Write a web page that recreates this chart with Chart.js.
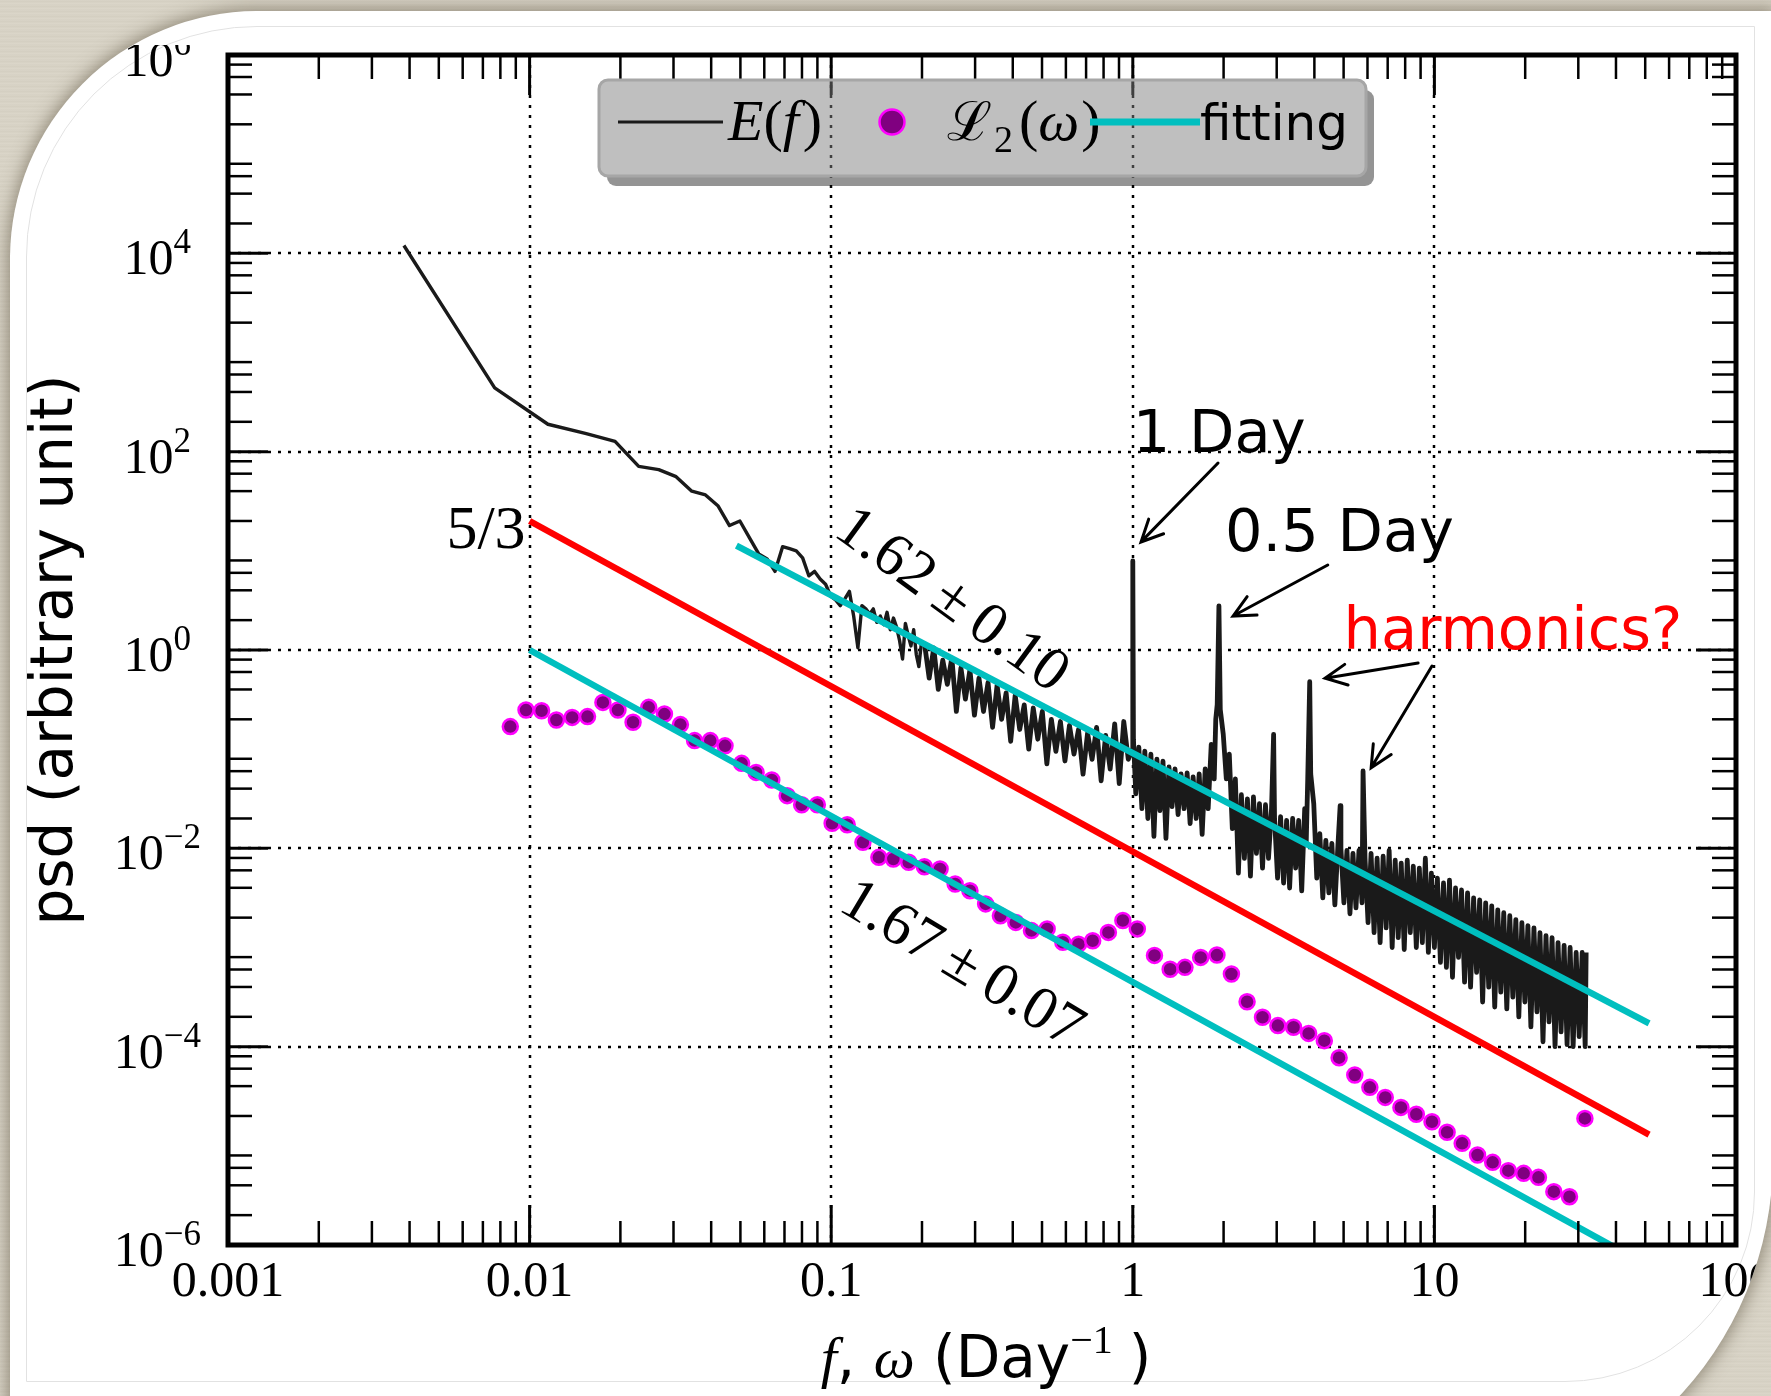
<!DOCTYPE html>
<html>
<head>
<meta charset="utf-8">
<script src="https://cdn.jsdelivr.net/npm/chart.js@4.4.1/dist/chart.umd.min.js"></script>
<style>
  html, body {
    margin: 0;
    width: 1771px;
    height: 1396px;
    overflow: hidden;
    background-color: #d8d3c6;
    background-image: repeating-linear-gradient(180deg, #d9d4c7 0px, #d3cec0 2px, #dcd7ca 3px, #d6d1c4 5px);
  }
  #card {
    position: absolute;
    left: 10px;
    top: 11px;
    width: 1763px;
    height: 1497px;
    background: #fff;
    border-radius: 248px 0 350px 0;
    overflow: hidden;
    box-shadow: 0 0 16px 3px rgba(80, 70, 50, 0.5);
  }
  #inner {
    position: absolute;
    left: 16px;
    top: 15px;
    width: 1727px;
    height: 1354px;
    border: 1px solid #e2e2e2;
    border-radius: 231px 0 190px 0;
  }
  #wrap {
    position: absolute;
    left: -10px;
    top: 34px;
    width: 1771px;
    height: 1351px;
  }
</style>
</head>
<body>
<div id="card">
  <div id="inner"></div>
  <div id="wrap"><canvas id="psdChart" width="1771" height="1351"></canvas></div>
</div>
<script>
// E(f): lowest frequency bins, one value per bin
const eFreqLow = [0.00383, 0.00766, 0.0115, 0.0153, 0.0192, 0.0230, 0.0268, 0.0306, 0.0345, 0.0383,
  0.0421, 0.0460, 0.0498, 0.0536, 0.0575, 0.0613, 0.0651, 0.0690, 0.0728, 0.0766,
  0.0804, 0.0843, 0.0881, 0.0919, 0.0958, 0.0996, 0.1034, 0.1072, 0.1111, 0.1149,
  0.1187, 0.1226, 0.1264, 0.1302, 0.1341, 0.1379, 0.1417, 0.1455, 0.1494, 0.1532,
  0.1570, 0.1609, 0.1647, 0.1685, 0.1724, 0.1762, 0.1800, 0.1838, 0.1877, 0.1915,
  0.1953, 0.1992];
const ePsdLow = [12000, 440, 189, 153, 127, 71, 66, 56, 40, 36.6,
  28.5, 18, 20, 13.5, 9.3, 8.3, 6.2, 11, 10.5, 10,
  8.5, 5.6, 6.2, 5.2, 4.6, 3.5, 3.2, 2.8, 3.3, 3.9,
  2.2, 1.05, 2.8, 2.6, 2.3, 2.6, 1.9, 2.2, 1.8, 2.4,
  1.6, 2.1, 1.7, 1.25, 0.81, 1.85, 1.4, 1.1, 1.6, 0.9,
  0.68, 1.2];

// E(f): 0.2 .. 1 Day^-1, noisy part up to the diurnal peak
const eFreqMid = [0.2042, 0.2113, 0.2188, 0.2265, 0.2344, 0.2427, 0.2512, 0.2600, 0.2692, 0.2786,
  0.2884, 0.2985, 0.3090, 0.3199, 0.3311, 0.3428, 0.3548, 0.3673, 0.3802, 0.3936,
  0.4074, 0.4217, 0.4365, 0.4519, 0.4677, 0.4842, 0.5012, 0.5188, 0.5370, 0.5559,
  0.5754, 0.5957, 0.6166, 0.6383, 0.6607, 0.6839, 0.7079, 0.7328, 0.7586, 0.7852,
  0.8128, 0.8414, 0.8710, 0.9016, 0.9333, 0.9661, 0.995, 1.000, 1.005];
const ePsdMid = [1.12, 0.52, 1.05, 0.40, 0.79, 0.45, 0.83, 0.24, 0.66, 0.32,
  0.63, 0.22, 0.52, 0.24, 0.47, 0.166, 0.44, 0.20, 0.37, 0.12,
  0.35, 0.158, 0.28, 0.10, 0.26, 0.126, 0.24, 0.071, 0.20, 0.095,
  0.19, 0.076, 0.174, 0.089, 0.158, 0.056, 0.145, 0.079, 0.166, 0.048,
  0.138, 0.063, 0.18, 0.045, 0.19, 0.079, 0.10, 7.9, 0.126];

// E(f): 1 .. 32 Day^-1, dense band with the tidal peaks
const eFreqHigh = [1.023, 1.047, 1.072, 1.096, 1.122, 1.148, 1.175, 1.202, 1.230, 1.259,
  1.288, 1.318, 1.349, 1.380, 1.413, 1.445, 1.479, 1.514, 1.549, 1.585,
  1.622, 1.660, 1.698, 1.738, 1.778, 1.820, 1.862, 1.884, 1.905, 1.930,
  1.950, 1.995, 2.042, 2.089, 2.138, 2.188, 2.239, 2.291, 2.344, 2.399,
  2.455, 2.512, 2.570, 2.630, 2.692, 2.754, 2.818, 2.884, 2.930, 2.951,
  3.020, 3.090, 3.162, 3.236, 3.311, 3.388, 3.467, 3.548, 3.631, 3.715,
  3.758, 3.802, 3.860, 3.890, 3.981, 4.074, 4.169, 4.266, 4.365, 4.467,
  4.571, 4.677, 4.786, 4.870, 4.898, 5.012, 5.129, 5.248, 5.370, 5.495,
  5.623, 5.754, 5.800, 5.888, 6.026, 6.166, 6.310, 6.457, 6.607, 6.761,
  6.918, 7.079, 7.244, 7.413, 7.586, 7.762, 7.943, 8.128, 8.318, 8.511,
  8.710, 8.913, 9.120, 9.333, 9.550, 9.772, 10.00, 10.23, 10.47, 10.72,
  10.96, 11.22, 11.48, 11.75, 12.02, 12.30, 12.59, 12.88, 13.18, 13.49,
  13.80, 14.13, 14.45, 14.79, 15.14, 15.49, 15.85, 16.22, 16.60, 16.98,
  17.38, 17.78, 18.20, 18.62, 19.05, 19.50, 19.95, 20.42, 20.89, 21.38,
  21.88, 22.39, 22.91, 23.44, 23.99, 24.55, 25.12, 25.70, 26.30, 26.92,
  27.54, 28.18, 28.84, 29.51, 30.20, 30.90, 31.62, 31.85];
const ePsdHigh = [0.0355, 0.105, 0.0251, 0.0955, 0.0200, 0.0891, 0.0132, 0.0794, 0.0240, 0.0759,
  0.0126, 0.0661, 0.0263, 0.0631, 0.0219, 0.0562, 0.0251, 0.0575, 0.0178, 0.0525,
  0.0200, 0.0562, 0.0138, 0.0631, 0.0251, 0.112, 0.0501, 0.200, 0.282, 2.79,
  0.251, 0.141, 0.0501, 0.0891, 0.0158, 0.0501, 0.00562, 0.0347, 0.00794, 0.0316,
  0.00525, 0.0331, 0.00891, 0.0282, 0.00631, 0.0275, 0.00794, 0.0251, 0.141, 0.0200,
  0.00501, 0.0209, 0.00447, 0.0191, 0.00398, 0.0200, 0.00631, 0.0191, 0.00372, 0.0251,
  0.0112, 0.0501, 0.479, 0.0562, 0.0282, 0.00501, 0.0141, 0.00316, 0.0120, 0.00355,
  0.0112, 0.00269, 0.0105, 0.0269, 0.0100, 0.00282, 0.00955, 0.00219, 0.00891, 0.00251,
  0.00955, 0.00282, 0.0603, 0.00794, 0.00178, 0.00891, 0.00141, 0.00794, 0.00112, 0.00832,
  0.00158, 0.00955, 0.00100, 0.00759, 0.00126, 0.00708, 0.000955, 0.00759, 0.00141, 0.00661,
  0.00100, 0.00631, 0.00112, 0.00794, 0.000891, 0.00562, 0.00100, 0.00501, 0.000708, 0.00447,
  0.000631, 0.00479, 0.000501, 0.00398, 0.000794, 0.00380, 0.000447, 0.00355, 0.000398, 0.00316,
  0.000562, 0.00302, 0.000282, 0.00282, 0.000398, 0.00263, 0.000251, 0.00240, 0.000355, 0.00224,
  0.000240, 0.00209, 0.000316, 0.00191, 0.000200, 0.00178, 0.000282, 0.00166, 0.000158, 0.00158,
  0.000224, 0.00141, 0.000112, 0.00132, 0.000178, 0.00126, 0.000100, 0.00112, 0.000141, 0.00105,
  0.000105, 0.00100, 0.000100, 0.000891, 0.000126, 0.000891, 0.000100, 0.000891];

// L2(omega) points
const lFreq = [0.00863, 0.00973, 0.01096, 0.01227, 0.01384, 0.01556, 0.01750, 0.01963, 0.02203, 0.02483,
  0.02799, 0.03162, 0.03524, 0.03972, 0.04446, 0.05047, 0.05636, 0.06353, 0.07145, 0.07980,
  0.08995, 0.1007, 0.1130, 0.1274, 0.1439, 0.1607, 0.1807, 0.2037, 0.2296, 0.2576,
  0.2884, 0.3251, 0.3639, 0.4093, 0.4613, 0.5200, 0.5861, 0.6607, 0.7362, 0.8299,
  0.9268, 1.035, 1.180, 1.330, 1.489, 1.679, 1.901, 2.123, 2.393, 2.692,
  3.027, 3.412, 3.828, 4.315, 4.831, 5.445, 6.109, 6.871, 7.745, 8.710,
  9.817, 11.02, 12.36, 13.90, 15.60, 17.58, 19.77, 22.13, 24.89, 28.05,
  31.55];
const lPsd = [0.169, 0.248, 0.244, 0.197, 0.209, 0.213, 0.296, 0.248, 0.187, 0.264,
  0.226, 0.177, 0.122, 0.122, 0.108, 0.0719, 0.0583, 0.0489, 0.0340, 0.0275,
  0.0275, 0.0179, 0.0173, 0.0115, 0.00811, 0.00780, 0.00723, 0.00653, 0.00619, 0.00437,
  0.00374, 0.00275, 0.00209, 0.00179, 0.00148, 0.00154, 0.00113, 0.00108, 0.00117, 0.00142,
  0.00187, 0.00154, 0.000832, 0.000603, 0.000631, 0.000794, 0.000839, 0.000541, 0.000284, 0.000198,
  0.000163, 0.000157, 0.000136, 0.000115, 7.74e-5, 5.18e-5, 3.89e-5, 3.08e-5, 2.44e-5, 2.08e-5,
  1.75e-5, 1.37e-5, 1.06e-5, 8.09e-6, 6.82e-6, 5.62e-6, 5.28e-6, 4.81e-6, 3.45e-6, 3.07e-6,
  1.89e-5];

// straight power laws: fits and the 5/3 reference
const fitEFreq = [0.0485, 51.5];
const fitEPsd = [11.3, 1.72e-4];
const fitLFreq = [0.01, 51.5];
const fitLPsd = [1.0, 6.1e-7];
const refFreq = [0.01, 51.5];
const refPsd = [20, 1.3e-5];

// axis ticks
const xMajor = [0.001, 0.01, 0.1, 1, 10, 100];
const xTickLabels = ['0.001', '0.01', '0.1', '1', '10', '100'];
const yExponents = [-6, -4, -2, 0, 2, 4, 6];
const xMinorSubs = [2, 3, 4, 5, 6, 7, 8, 9];
const yMinorSubs = [2, 4, 6, 8];

const SERIF = '"Liberation Serif", "DejaVu Serif", serif';
const SANS = '"DejaVu Sans", "Liberation Sans", sans-serif';

function toPoints(xs, ys) {
    return xs.map((x, i) => ({ x: x, y: ys[i] }));
}

// text annotations, anchored in data coordinates
const notes = [
    { text: '1 Day', f: 1.0, p: 100, font: '59px ' + SANS, color: '#000', align: 'left' },
    { text: '0.5 Day', f: 2.02, p: 10, font: '59px ' + SANS, color: '#000', align: 'left' },
    { text: 'harmonics?', f: 5.0, p: 1.02, font: '59px ' + SANS, color: '#ff0000', align: 'left' },
    { text: '5/3', f: 0.0097, p: 10.7, font: '62px ' + SERIF, color: '#000', align: 'right' }
];
const slopeNotes = [
    { text: '1.62\u2009±\u20090.10', f: 0.25, p: 3.1, angle: 36 },
    { text: '1.67\u2009±\u20090.07', f: 0.27, p: 6.6e-4, angle: 31 }
];
const arrows = [
    { from: [1.917, 76.9], to: [1.065, 12.3] },
    { from: [4.43, 7.2], to: [2.15, 2.2] },
    { from: [8.83, 0.74], to: [4.34, 0.52] },
    { from: [9.82, 0.69], to: [6.17, 0.065] }
];

function drawRuns(ctx, runs, x, y, align) {
    let total = 0;
    runs.forEach(r => {
        ctx.font = r.font;
        r.w = ctx.measureText(r.text).width;
        total += r.w + (r.gap || 0);
    });
    let cx = align === 'center' ? x - total / 2 : align === 'right' ? x - total : x;
    ctx.textAlign = 'left';
    runs.forEach(r => {
        ctx.font = r.font;
        ctx.fillText(r.text, cx, y + (r.dy || 0));
        cx += r.w + (r.gap || 0);
    });
    return total;
}

function drawArrow(ctx, x1, y1, x2, y2) {
    const ang = Math.atan2(y2 - y1, x2 - x1);
    const head = 24, spread = 0.45;
    ctx.beginPath();
    ctx.moveTo(x1, y1);
    ctx.lineTo(x2, y2);
    ctx.moveTo(x2 - head * Math.cos(ang - spread), y2 - head * Math.sin(ang - spread));
    ctx.lineTo(x2, y2);
    ctx.lineTo(x2 - head * Math.cos(ang + spread), y2 - head * Math.sin(ang + spread));
    ctx.stroke();
}

const framePlugin = {
    id: 'psdFrame',
    beforeDatasetsDraw(chart) {
        const { ctx, chartArea: a, scales: { x, y } } = chart;
        ctx.save();
        ctx.strokeStyle = '#000';
        ctx.lineWidth = 2.5;
        ctx.setLineDash([3, 7]);
        xMajor.slice(1, -1).forEach(v => {
            const px = Math.round(x.getPixelForValue(v));
            ctx.beginPath();
            ctx.moveTo(px, a.top);
            ctx.lineTo(px, a.bottom);
            ctx.stroke();
        });
        yExponents.slice(1, -1).forEach(e => {
            const py = Math.round(y.getPixelForValue(Math.pow(10, e)));
            ctx.beginPath();
            ctx.moveTo(a.left, py);
            ctx.lineTo(a.right, py);
            ctx.stroke();
        });
        ctx.restore();
    },
    afterDatasetsDraw(chart) {
        const { ctx, chartArea: a, scales: { x, y } } = chart;
        ctx.save();

        // inward ticks on all four sides
        ctx.strokeStyle = '#000';
        const tick = (x1, y1, x2, y2) => {
            ctx.beginPath();
            ctx.moveTo(x1, y1);
            ctx.lineTo(x2, y2);
            ctx.stroke();
        };
        ctx.lineWidth = 2.5;
        for (let d = -3; d < 2; d++) {
            xMinorSubs.forEach(m => {
                const px = x.getPixelForValue(m * Math.pow(10, d));
                tick(px, a.bottom, px, a.bottom - 24);
                tick(px, a.top, px, a.top + 24);
            });
        }
        for (let d = -6; d < 6; d++) {
            yMinorSubs.forEach(m => {
                const py = y.getPixelForValue(m * Math.pow(10, d));
                tick(a.left, py, a.left + 24, py);
                tick(a.right, py, a.right - 24, py);
            });
        }
        ctx.lineWidth = 3;
        xMajor.forEach(v => {
            const px = x.getPixelForValue(v);
            tick(px, a.bottom, px, a.bottom - 40);
            tick(px, a.top, px, a.top + 40);
        });
        yExponents.forEach(e => {
            const py = y.getPixelForValue(Math.pow(10, e));
            tick(a.left, py, a.left + 40, py);
            tick(a.right, py, a.right - 40, py);
        });

        // frame
        ctx.lineWidth = 5;
        ctx.strokeRect(a.left, a.top, a.right - a.left, a.bottom - a.top);

        // tick labels
        ctx.fillStyle = '#000';
        ctx.textBaseline = 'alphabetic';
        ctx.font = '50px ' + SERIF;
        ctx.textAlign = 'center';
        xMajor.forEach((v, i) => {
            ctx.fillText(xTickLabels[i], x.getPixelForValue(v), a.bottom + 51);
        });
        yExponents.forEach(e => {
            const py = y.getPixelForValue(Math.pow(10, e));
            const right = a.left - (e < 0 ? 27 : 37);
            drawRuns(ctx, [
                { text: '10', font: '50px ' + SERIF },
                { text: e < 0 ? '\u2212' + (-e) : String(e), font: '35px ' + SERIF, dy: -21 }
            ], right, py + 21, 'right');
        });

        // axis titles
        const midX = (a.left + a.right) / 2;
        drawRuns(ctx, [
            { text: 'f', font: 'italic 58px ' + SERIF },
            { text: ', ', font: '58px ' + SANS },
            { text: 'ω', font: 'italic 58px ' + SERIF },
            { text: ' (Day', font: '58px ' + SANS },
            { text: '\u22121', font: '40px ' + SERIF, dy: -24, gap: 16 },
            { text: ')', font: '58px ' + SANS }
        ], midX + 4, a.bottom + 132, 'center');

        ctx.save();
        ctx.translate(72, (a.top + a.bottom) / 2);
        ctx.rotate(-Math.PI / 2);
        ctx.font = '58px ' + SANS;
        ctx.textAlign = 'center';
        ctx.fillText('psd (arbitrary unit)', 0, 0);
        ctx.restore();

        // annotations
        notes.forEach(n => {
            ctx.font = n.font;
            ctx.fillStyle = n.color;
            ctx.textAlign = n.align;
            ctx.fillText(n.text, x.getPixelForValue(n.f), y.getPixelForValue(n.p));
        });
        ctx.fillStyle = '#000';
        slopeNotes.forEach(n => {
            ctx.save();
            ctx.translate(x.getPixelForValue(n.f), y.getPixelForValue(n.p));
            ctx.rotate(n.angle * Math.PI / 180);
            ctx.font = '61px ' + SERIF;
            ctx.textAlign = 'center';
            ctx.textBaseline = 'middle';
            ctx.fillText(n.text, 0, 0);
            ctx.restore();
        });
        ctx.strokeStyle = '#000';
        ctx.lineWidth = 3;
        ctx.lineCap = 'round';
        arrows.forEach(ar => {
            drawArrow(ctx,
                x.getPixelForValue(ar.from[0]), y.getPixelForValue(ar.from[1]),
                x.getPixelForValue(ar.to[0]), y.getPixelForValue(ar.to[1]));
        });
        ctx.lineCap = 'butt';

        drawLegend(ctx, chart);
        ctx.restore();
    }
};

function drawLegend(ctx, chart) {
    const a = chart.chartArea;
    const bx = a.left + 371, by = a.top + 25, bw = 767, bh = 96, r = 9;

    // drop shadow, only where the box does not cover it
    ctx.save();
    ctx.beginPath();
    ctx.rect(0, 0, chart.width, chart.height);
    ctx.roundRect(bx, by, bw, bh, r);
    ctx.clip('evenodd');
    ctx.fillStyle = 'rgba(0,0,0,0.42)';
    ctx.beginPath();
    ctx.roundRect(bx + 8, by + 10, bw, bh, r);
    ctx.fill();
    ctx.restore();

    ctx.fillStyle = 'rgba(128,128,128,0.5)';
    ctx.strokeStyle = '#a6a6a6';
    ctx.lineWidth = 3;
    ctx.setLineDash([]);
    ctx.beginPath();
    ctx.roundRect(bx, by, bw, bh, r);
    ctx.fill();
    ctx.stroke();

    const ly = by + 42, ty = by + 60;
    // E(f)
    ctx.strokeStyle = '#1a1a1a';
    ctx.lineWidth = 3.2;
    ctx.beginPath();
    ctx.moveTo(bx + 19, ly);
    ctx.lineTo(bx + 124, ly);
    ctx.stroke();
    ctx.fillStyle = '#000';
    drawRuns(ctx, [
        { text: 'E', font: 'italic 58px ' + SERIF },
        { text: '(', font: '58px ' + SERIF },
        { text: 'f', font: 'italic 58px ' + SERIF, gap: 4 },
        { text: ')', font: '58px ' + SERIF }
    ], bx + 129, ty, 'left');

    // L2 marker
    ctx.beginPath();
    ctx.arc(bx + 293, ly, 12.5, 0, Math.PI * 2);
    ctx.fillStyle = '#800080';
    ctx.fill();
    ctx.strokeStyle = '#ff00ff';
    ctx.lineWidth = 2.5;
    ctx.stroke();
    ctx.fillStyle = '#000';
    drawRuns(ctx, [
        { text: '\u2112', font: '54px ' + SERIF, gap: 2 },
        { text: '2', font: '38px ' + SERIF, dy: 12, gap: 6 },
        { text: '(', font: '58px ' + SERIF },
        { text: 'ω', font: 'italic 58px ' + SERIF, gap: 2 },
        { text: ')', font: '58px ' + SERIF }
    ], bx + 348, ty, 'left');

    // fitting
    ctx.strokeStyle = '#00bfbf';
    ctx.lineWidth = 7;
    ctx.beginPath();
    ctx.moveTo(bx + 491, ly);
    ctx.lineTo(bx + 601, ly);
    ctx.stroke();
    ctx.fillStyle = '#000';
    ctx.font = '50px ' + SANS;
    ctx.textAlign = 'left';
    ctx.fillText('fitting', bx + 601, ty);
}

const eFreq = eFreqLow.concat(eFreqMid, eFreqHigh);
const ePsd = ePsdLow.concat(ePsdMid, ePsdHigh);
// the dense part above ~0.2 Day^-1 is stroked heavier so the noisy band closes up
const eSplit = eFreqLow.length - 1;

new Chart(document.getElementById('psdChart'), {
    type: 'line',
    data: {
        datasets: [{
            label: 'fitting E',
            data: toPoints(fitEFreq, fitEPsd),
            borderColor: '#00bfbf',
            borderWidth: 6.5,
            pointRadius: 0,
            clip: 0
        }, {
            label: 'fitting L2',
            data: toPoints(fitLFreq, fitLPsd),
            borderColor: '#00bfbf',
            borderWidth: 6.5,
            pointRadius: 0,
            clip: 0
        }, {
            label: '5/3',
            data: toPoints(refFreq, refPsd),
            borderColor: '#ff0000',
            borderWidth: 6.5,
            pointRadius: 0,
            clip: 0
        }, {
            label: 'L2',
            data: toPoints(lFreq, lPsd),
            showLine: false,
            pointRadius: 7.5,
            pointBackgroundColor: '#800080',
            pointBorderColor: '#ff00ff',
            pointBorderWidth: 2.5
        }, {
            label: 'E(f)',
            data: toPoints(eFreq.slice(0, eSplit + 1), ePsd.slice(0, eSplit + 1)),
            borderColor: '#1a1a1a',
            borderWidth: 3.4,
            borderJoinStyle: 'round',
            pointRadius: 0,
            tension: 0,
            clip: 0
        }, {
            label: 'E(f) dense',
            data: toPoints(eFreq.slice(eSplit), ePsd.slice(eSplit)),
            borderColor: '#1a1a1a',
            borderWidth: 4.8,
            borderJoinStyle: 'round',
            pointRadius: 0,
            tension: 0,
            clip: 0
        }]
    },
    options: {
        responsive: false,
        animation: false,
        events: [],
        layout: { padding: { left: 0, right: 35, top: 10, bottom: 0 } },
        plugins: {
            legend: { display: false },
            tooltip: { enabled: false }
        },
        scales: {
            x: {
                type: 'logarithmic',
                min: 0.001,
                max: 100,
                ticks: { display: false },
                grid: { display: false },
                border: { display: false },
                afterFit: function (scale) { scale.height = 151; }
            },
            y: {
                type: 'logarithmic',
                min: 1e-6,
                max: 1e6,
                ticks: { display: false },
                grid: { display: false },
                border: { display: false },
                afterFit: function (scale) { scale.width = 228; }
            }
        }
    },
    plugins: [framePlugin]
});
</script>
</body>
</html>
